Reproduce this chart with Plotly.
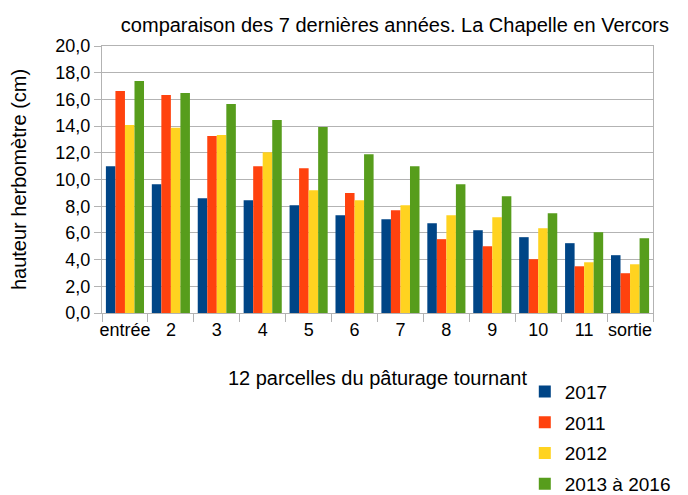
import plotly.graph_objects as go

categories = ["entrée", "2", "3", "4", "5", "6", "7", "8", "9", "10", "11", "sortie"]
series_names = ["2017", "2011", "2012", "2013 à 2016"]
v2017 = [11.0, 9.65, 8.6, 8.45, 8.08, 7.33, 7.03, 6.73, 6.2, 5.68, 5.23, 4.33]
v2011 = [16.63, 16.33, 13.25, 11.0, 10.85, 8.98, 7.7, 5.53, 5.0, 4.03, 3.5, 2.98]
v2012 = [14.08, 13.88, 13.33, 12.05, 9.2, 8.45, 8.08, 7.33, 7.18, 6.35, 3.8, 3.65]
v2013_2016 = [17.38, 16.48, 15.65, 14.45, 13.93, 11.9, 11.0, 9.65, 8.75, 7.48, 6.05, 5.6]
colors = ["#004586", "#ff420e", "#ffd320", "#579d1c"]

fig = go.Figure()
for name, vals, col in zip(series_names, [v2017, v2011, v2012, v2013_2016], colors):
    fig.add_trace(go.Bar(x=categories, y=vals, name=name, marker_color=col,
                         marker_line_width=0, legendgroup=name))

font = "Liberation Sans, Arial, sans-serif"
fig.update_layout(
    width=680, height=487,
    margin=dict(l=94, r=35, t=38, b=182, autoexpand=False),
    paper_bgcolor="white", plot_bgcolor="white",
    separators=", ",
    barmode="group", bargap=0.17, bargroupgap=0,
    font=dict(family=font, size=18, color="black"),
    title=dict(text="comparaison des 7 dernières années. La Chapelle en Vercors",
               x=0.569, xanchor="center", xref="container",
               y=0.965, yanchor="middle", yref="container",
               font=dict(size=20)),
    legend=dict(x=0.76, xanchor="left", xref="container",
                y=0.251, yanchor="top", yref="container",
                font=dict(size=19), tracegroupgap=3, itemwidth=30),
    xaxis=dict(type="category", showline=True, linecolor="#b3b3b3", linewidth=1,
               mirror=True, ticks="outside", tickson="boundaries", ticklen=8,
               tickcolor="#b3b3b3", showgrid=False, tickangle=0, automargin=False,
               title=dict(text="12 parcelles du pâturage tournant", standoff=32,
                          font=dict(size=20))),
    yaxis=dict(range=[0, 20], dtick=2, tickformat=".1f", showgrid=True,
               gridcolor="#b3b3b3", showline=True, linecolor="#b3b3b3",
               mirror=True, ticks="outside", ticklen=7, tickcolor="#b3b3b3",
               zeroline=False, automargin=False,
               title=dict(text="hauteur herbomètre (cm)", font=dict(size=20), standoff=30)),
)

fig.write_html("out.html")
